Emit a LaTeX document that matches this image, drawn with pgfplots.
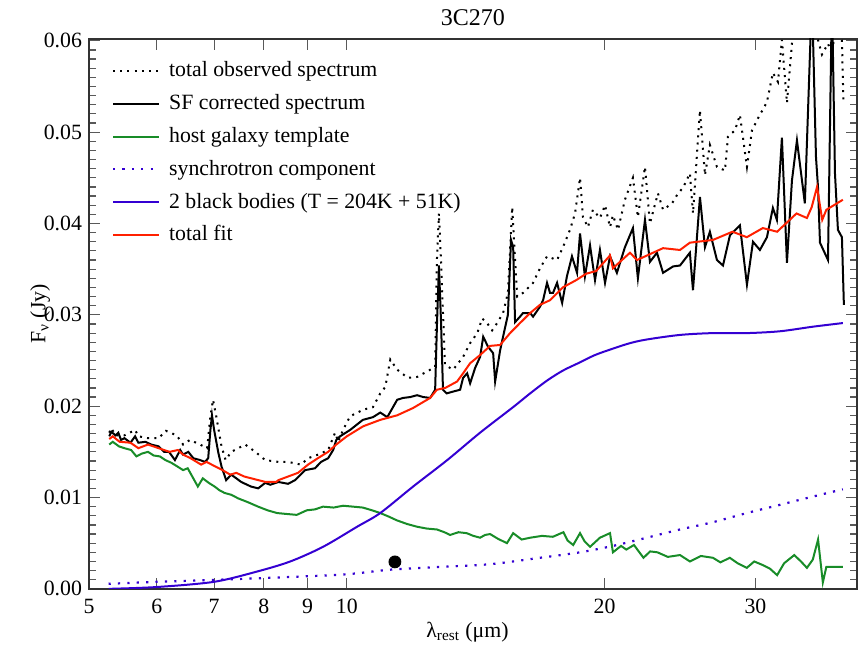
\documentclass[border=0pt]{standalone}
\usepackage{fontspec}
\setmainfont{Liberation Serif}
\usepackage{pgfplots}
\pgfplotsset{compat=1.18}
\definecolor{cgreen}{RGB}{24,140,40}
\definecolor{cred}{RGB}{255,32,0}
\definecolor{cblue}{RGB}{52,0,210}
\begin{document}
\begin{tikzpicture}
\begin{axis}[
  at={(0,0)}, anchor=south west,
  scale only axis, width=384pt, height=275pt,
  xmode=log, xmin=5, xmax=39.4, ymin=0, ymax=0.0602,
  xtick={5,6,7,8,9,10,20,30}, xticklabels={5,6,7,8,9,10,20,30},
  xminorticks=false,
  ytick={0,0.01,0.02,0.03,0.04,0.05,0.06}, minor y tick num=9,
  scaled y ticks=false,
  yticklabel style={/pgf/number format/.cd, fixed, fixed zerofill, precision=2, assume math mode=true},
  xticklabel style={yshift=-1.5pt},
  tick align=inside, major tick length=5.3pt, minor tick length=3.3pt,
  tick style={black!65, line width=0.6pt},
  axis line style={black!80, line width=0.7pt},
  font=\fontsize{10.9}{13}\selectfont,
  ticklabel style={font=\fontsize{10.9}{13}\selectfont},
  title={3C270},
  title style={at={(axis description cs:0.5,1)}, anchor=center, yshift=4.5pt, font=\fontsize{12}{14}\selectfont},
  xlabel={λ\textsubscript{rest} (μm)},
  xlabel style={at={(axis description cs:0.493,-0.078)}, anchor=center},
  ylabel={F\textsubscript{ν} (Jy)},
  ylabel style={at={(axis description cs:-0.0637,0.5)}, anchor=center},
  legend cell align=left,
  legend image code/.code={\draw[#1] (0pt,0pt) -- (23pt,0pt);},
  legend style={draw=none, fill=none, inner sep=0pt, outer sep=0pt,
    at={(axis description cs:0,1)}, anchor=north west, xshift=11.5pt, yshift=-7.8pt,
    row sep=0pt, column sep=4.5pt,
    nodes={inner sep=0pt, text height=11.2pt, text depth=5.2pt},
    font=\fontsize{10.9}{13}\selectfont},
]
% total observed spectrum
\addplot[black, line width=1pt, dash pattern=on 1pt off 2.6pt] coordinates {
(5.28,0.0171) (5.31,0.0176) (5.37,0.0168) (5.50,0.0168) (5.66,0.0174) (5.71,0.0167)
(5.86,0.0165) (6.03,0.0165) (6.15,0.0173) (6.33,0.0168) (6.44,0.0158) (6.56,0.0163)
(6.74,0.0158) (6.87,0.0154) (6.93,0.0189) (6.98,0.0207) (7.04,0.0189) (7.14,0.0156)
(7.22,0.0141) (7.33,0.0150) (7.61,0.0158) (7.82,0.0150) (8.03,0.0141) (8.32,0.0139)
(8.54,0.0139) (8.84,0.0136) (9.01,0.0143) (9.26,0.0147) (9.51,0.0152) (9.69,0.0171)
(9.77,0.0161) (9.90,0.0174) (10.09,0.0189) (10.44,0.0196) (10.73,0.0199) (10.94,0.0214)
(11.09,0.0221) (11.24,0.0251) (11.45,0.0240) (11.78,0.0231) (12.08,0.0232) (12.41,0.0238)
(12.68,0.0243) (12.74,0.0360) (12.81,0.0411) (12.88,0.0360) (13.02,0.0245) (13.31,0.0240)
(13.67,0.0254) (13.93,0.0269) (14.20,0.0280) (14.39,0.0296) (14.58,0.0291) (14.78,0.0283)
(14.98,0.0291) (15.22,0.0302) (15.42,0.0324) (15.60,0.0418) (15.68,0.0379) (15.81,0.0320)
(16.06,0.0324) (16.50,0.0335) (16.81,0.0351) (17.13,0.0364) (17.60,0.0360) (17.88,0.0374)
(18.22,0.0393) (18.47,0.0411) (18.72,0.0450) (18.87,0.0407) (19.12,0.0396) (19.38,0.0415)
(19.75,0.0406) (20.02,0.0420) (20.29,0.0396) (20.45,0.0409) (20.73,0.0393) (21.12,0.0426)
(21.58,0.0450) (21.87,0.0407) (22.29,0.0462) (22.59,0.0400) (23.08,0.0433) (23.40,0.0415)
(23.97,0.0422) (24.36,0.0433) (24.69,0.0439) (25.15,0.0455) (25.36,0.0411) (25.84,0.0524)
(26.19,0.0453) (26.54,0.0486) (27.05,0.0462) (27.64,0.0458) (27.86,0.0495) (28.39,0.0502)
(28.77,0.0519) (29.32,0.0462) (29.72,0.0502) (30.20,0.0515) (30.94,0.0533) (31.44,0.0565)
(31.87,0.0555) (32.21,0.0601) (32.65,0.0532) (33.09,0.0597) (33.54,0.0640) (34.08,0.0640)
(34.92,0.0630) (35.49,0.0601) (35.87,0.0585) (36.46,0.0597) (36.85,0.0585) (37.35,0.0630)
(37.85,0.0601) (38.00,0.0535)
};
\addlegendentry{total observed spectrum}
% SF corrected spectrum
\addplot[black, line width=1pt] coordinates {
(5.28,0.0167) (5.31,0.0172) (5.37,0.0168) (5.41,0.0171) (5.45,0.0163) (5.50,0.0165)
(5.59,0.0160) (5.66,0.0167) (5.71,0.0160) (5.82,0.0161) (5.91,0.0158) (6.03,0.0156)
(6.12,0.0150) (6.20,0.0150) (6.30,0.0141) (6.39,0.0152) (6.44,0.0147) (6.53,0.0150)
(6.62,0.0143) (6.74,0.0141) (6.83,0.0139) (6.89,0.0143) (6.93,0.0174) (6.96,0.0190)
(7.00,0.0174) (7.08,0.0149) (7.14,0.0134) (7.23,0.0119) (7.33,0.0125) (7.43,0.0121)
(7.53,0.0117) (7.73,0.0112) (7.88,0.0110) (8.03,0.0116) (8.14,0.0114) (8.32,0.0117)
(8.54,0.0115) (8.70,0.0119) (8.94,0.0130) (9.18,0.0132) (9.33,0.0139) (9.51,0.0143)
(9.64,0.0152) (9.72,0.0163) (9.82,0.0167) (10.09,0.0174) (10.44,0.0185) (10.73,0.0188)
(10.94,0.0193) (11.15,0.0188) (11.45,0.0207) (11.63,0.0209) (11.86,0.0210) (12.08,0.0212)
(12.28,0.0210) (12.51,0.0209) (12.68,0.0218) (12.74,0.0287) (12.81,0.0354) (12.88,0.0294)
(12.95,0.0218) (13.08,0.0214) (13.31,0.0216) (13.56,0.0218) (13.67,0.0231) (13.82,0.0236)
(13.93,0.0225) (14.12,0.0242) (14.31,0.0254) (14.43,0.0276) (14.62,0.0265) (14.82,0.0258)
(14.90,0.0227) (15.10,0.0261) (15.22,0.0276) (15.42,0.0300) (15.55,0.0382) (15.64,0.0374)
(15.72,0.0292) (15.93,0.0298) (16.06,0.0302) (16.37,0.0302) (16.50,0.0298) (16.81,0.0309)
(16.95,0.0316) (17.13,0.0335) (17.27,0.0324) (17.41,0.0324) (17.60,0.0335) (17.84,0.0313)
(18.07,0.0342) (18.32,0.0364) (18.57,0.0346) (18.72,0.0389) (18.97,0.0342) (19.23,0.0376)
(19.49,0.0338) (19.75,0.0371) (20.02,0.0335) (20.29,0.0364) (20.67,0.0346) (21.12,0.0374)
(21.58,0.0395) (21.87,0.0340) (22.29,0.0404) (22.59,0.0358) (23.02,0.0368) (23.40,0.0346)
(24.04,0.0353) (24.49,0.0354) (25.15,0.0368) (25.36,0.0327) (25.84,0.0429) (26.19,0.0374)
(26.54,0.0391) (27.05,0.0360) (27.49,0.0354) (28.01,0.0387) (28.77,0.0398) (29.32,0.0333)
(29.80,0.0380) (30.36,0.0371) (30.94,0.0385) (31.44,0.0417) (31.78,0.0404) (32.21,0.0494)
(32.65,0.0357) (33.09,0.0447) (33.54,0.0491) (34.26,0.0422) (34.92,0.0650) (35.30,0.0473)
(35.49,0.0440) (35.68,0.0379) (36.46,0.0360) (36.85,0.0650) (37.15,0.0455) (37.45,0.0393)
(37.85,0.0385) (38.05,0.0311)
};
\addlegendentry{SF corrected spectrum}
% host galaxy template
\addplot[cgreen, line width=1pt] coordinates {
(5.28,0.0158) (5.33,0.0161) (5.42,0.0156) (5.50,0.0154) (5.60,0.0152) (5.68,0.0145)
(5.76,0.0148) (5.86,0.0150) (5.95,0.0146) (6.05,0.0145) (6.14,0.0141) (6.24,0.0138)
(6.34,0.0134) (6.44,0.0130) (6.52,0.0132) (6.61,0.0122) (6.70,0.0112) (6.79,0.0121)
(6.90,0.0116) (7.01,0.0112) (7.10,0.0108) (7.20,0.0105) (7.33,0.0103) (7.47,0.0099)
(7.66,0.0095) (7.88,0.0090) (8.08,0.0086) (8.29,0.0083) (8.50,0.0082) (8.74,0.0081)
(8.98,0.0086) (9.18,0.0087) (9.38,0.0090) (9.65,0.0089) (9.90,0.0091) (10.17,0.0090)
(10.44,0.0089) (10.70,0.0086) (10.94,0.0083) (11.20,0.0079) (11.44,0.0075) (11.76,0.0071)
(12.08,0.0068) (12.40,0.0066) (12.74,0.0065) (13.00,0.0062) (13.20,0.0059) (13.50,0.0062)
(13.80,0.0061) (14.05,0.0058) (14.31,0.0056) (14.50,0.0059) (14.70,0.0060) (15.00,0.0055)
(15.38,0.0050) (15.64,0.0061) (16.00,0.0054) (16.37,0.0056) (16.90,0.0058) (17.40,0.0057)
(17.90,0.0062) (18.10,0.0053) (18.38,0.0048) (18.72,0.0061) (18.95,0.0052) (19.23,0.0046)
(19.75,0.0056) (20.29,0.0061) (20.45,0.0040) (20.90,0.0047) (21.20,0.0043) (21.64,0.0048)
(22.20,0.0034) (22.60,0.0041) (23.05,0.0040) (23.70,0.0035) (24.49,0.0037) (25.15,0.0030)
(25.90,0.0036) (26.76,0.0034) (27.30,0.0029) (28.00,0.0034) (28.60,0.0028) (29.31,0.0023)
(29.90,0.0030) (30.60,0.0026) (31.20,0.0022) (31.80,0.0015) (32.40,0.0028) (33.30,0.0037)
(33.90,0.0030) (34.45,0.0023) (35.00,0.0032) (35.50,0.0054) (35.96,0.0007) (36.30,0.0024)
(37.95,0.0024)
};
\addlegendentry{host galaxy template}
% synchrotron component
\addplot[cblue, line width=1.1pt, dash pattern=on 1.1pt off 3.6pt, smooth] coordinates {
(5.27,0.00055) (6.0,0.00077) (7.0,0.00098) (8.59,0.0013) (10.0,0.0016) (11.24,0.0021)
(12.85,0.0024) (14.7,0.0027) (16.81,0.0034) (18.72,0.0040) (20.45,0.0047) (22.4,0.0056)
(24.49,0.0065) (26.76,0.0073) (29.31,0.0083) (32.04,0.0092) (35.0,0.0101) (37.95,0.0109)
};
\addlegendentry{synchrotron component}
% 2 black bodies
\addplot[cblue, line width=1pt, smooth] coordinates {
(5.27,0.0000) (6.0,0.0002) (7.0,0.00077) (7.86,0.0019) (8.59,0.0030) (9.38,0.0046)
(10.28,0.0068) (10.94,0.0083) (11.95,0.0112) (13.1,0.0141) (14.31,0.0171) (15.64,0.0199)
(16.37,0.0214) (17.13,0.0228) (17.88,0.0239) (18.72,0.0248) (19.49,0.0256) (20.45,0.0263)
(21.41,0.0269) (22.4,0.0273) (24.49,0.0278) (26.76,0.0280) (29.31,0.0280) (32.04,0.0282)
(35.0,0.0287) (37.95,0.0291)
};
\addlegendentry{2 black bodies (T = 204K + 51K)}
% total fit
\addplot[cred, line width=1pt] coordinates {
(5.28,0.0164) (5.33,0.0167) (5.43,0.0161) (5.59,0.0160) (5.71,0.0154) (5.86,0.0158)
(6.03,0.0154) (6.21,0.0150) (6.35,0.0152) (6.44,0.0147) (6.57,0.0143) (6.76,0.0136)
(6.86,0.0139) (7.02,0.0134) (7.16,0.0130) (7.31,0.0125) (7.43,0.0127) (7.59,0.0123)
(7.81,0.0120) (8.04,0.0117) (8.27,0.0117) (8.32,0.0119) (8.54,0.0123) (8.77,0.0127)
(9.01,0.0136) (9.25,0.0143) (9.51,0.0150) (9.72,0.0158) (10.0,0.0167) (10.45,0.0178)
(10.94,0.0185) (11.45,0.0190) (11.95,0.0198) (12.51,0.0209) (12.74,0.0218) (13.03,0.0220)
(13.45,0.0227) (13.67,0.0236) (13.93,0.0247) (14.31,0.0256) (14.70,0.0266) (15.10,0.0267)
(15.51,0.0280) (15.93,0.0291) (16.37,0.0302) (16.81,0.0311) (17.27,0.0316) (17.87,0.0330)
(18.53,0.0338) (19.03,0.0345) (19.55,0.0348) (20.29,0.0365) (20.45,0.0351) (21.41,0.0368)
(21.82,0.0360) (23.40,0.0373) (24.49,0.0371) (25.15,0.0379) (26.76,0.0382) (28.2,0.0391)
(29.31,0.0385) (30.6,0.0395) (31.8,0.0391) (33.5,0.0411) (34.45,0.0406) (34.9,0.0418)
(35.4,0.0440) (35.9,0.0404) (36.3,0.0415) (37.95,0.0426)
};
\addlegendentry{total fit}
\addplot[only marks, mark=*, mark size=3pt, black, forget plot] coordinates {(11.38,0.00295)};
\end{axis}
\pgfresetboundingbox
\path[use as bounding box] (-44.5pt,-28.5pt) rectangle (384.6pt,294.5pt);
\end{tikzpicture}
\end{document}
